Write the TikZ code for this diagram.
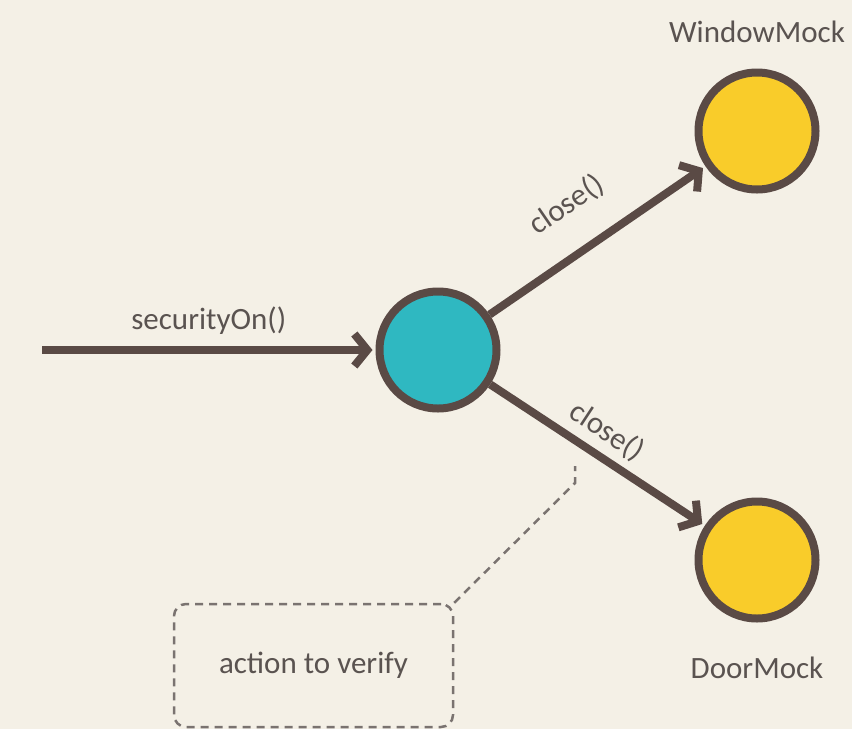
\documentclass[tikz,border=0pt]{standalone}
\usepackage{fontspec}
\setmainfont{Carlito}
\usetikzlibrary{arrows.meta,positioning}
\definecolor{paper}{HTML}{F4F0E6}
\definecolor{edge}{HTML}{5A4A45}
\definecolor{ink}{HTML}{5A5350}
\definecolor{notegrey}{HTML}{7A7370}
\definecolor{sutfill}{HTML}{2FB8C1}
\definecolor{mockfill}{HTML}{F9CC2A}

\begin{document}
\begin{tikzpicture}[x=1pt,y=-1pt,
  ball/.style={circle,draw=edge,line width=8pt,minimum size=117pt,inner sep=0pt},
  call/.style={draw=edge,line width=8pt,shorten >=3pt,-{Straight Barb[length=13pt,width=32pt]}},
  lbl/.style={text=ink,font=\fontsize{31}{37}\selectfont},
  notestroke/.style={draw=notegrey,line width=2.5pt,dash pattern=on 8pt off 6pt}]
\fill[paper] (0,0) rectangle (852,729);
\useasboundingbox (0,0) rectangle (852,729);
\node[ball,fill=sutfill] (sut) at (438,350) {};
\node[ball,fill=mockfill] (window) at (757,131) {};
\node[ball,fill=mockfill] (door) at (757,560) {};
\node[lbl] (windowname) at (757,32) {WindowMock};
\node[lbl] (doorname) at (757,668) {DoorMock};
\coordinate (caller) at (42,350);
\draw[call] (caller) -- (sut) node[lbl,midway,above=8pt] {securityOn()};
\draw[call] (sut) -- (window) node[lbl,pos=0.48,sloped,above=26pt] {close()};
\draw[call] (sut) -- (door) node[lbl,pos=0.48,sloped,above=4pt] {close()};
% the note
\node[lbl,notestroke,rounded corners=12pt,
  minimum width=279pt,minimum height=123pt] (note) at (313.5,665.5) {action to verify};
\coordinate (bend) at (575,483);
\coordinate (tip) at (575,466);
\draw[notestroke] (note.north east) -- (bend) -- (tip);
\end{tikzpicture}
\end{document}
